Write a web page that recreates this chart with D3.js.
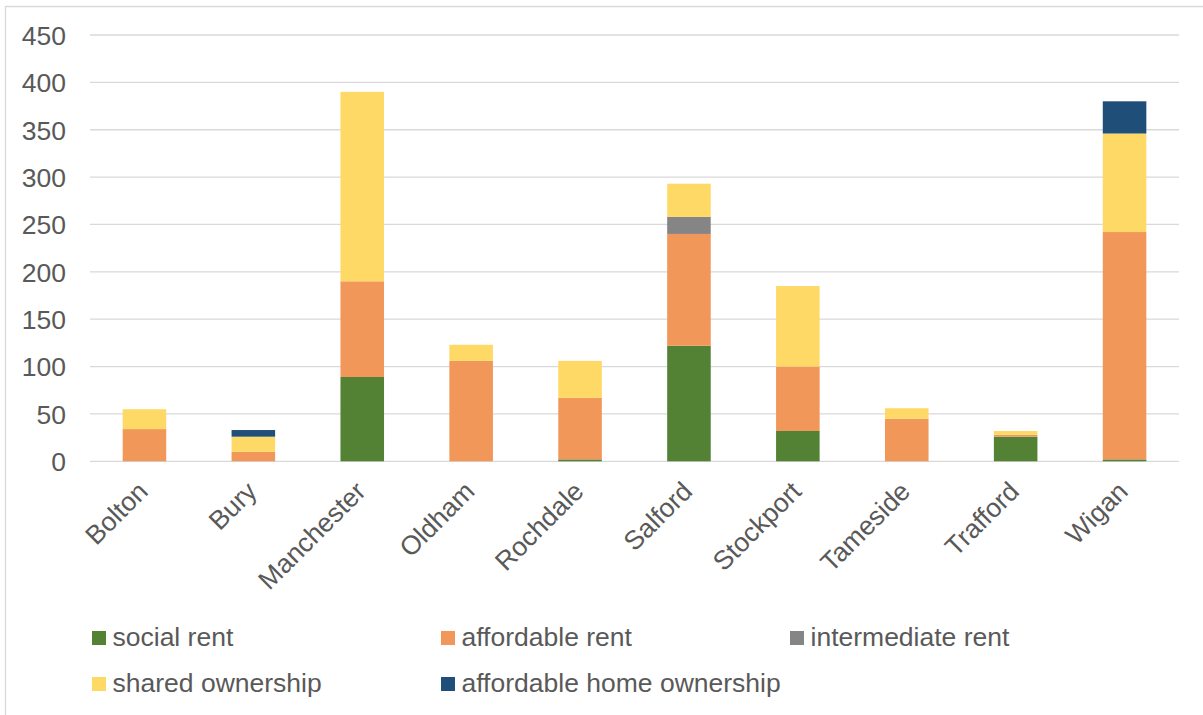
<!DOCTYPE html>
<html>
<head>
<meta charset="utf-8">
<script src="https://cdn.jsdelivr.net/npm/d3@7"></script>
<style>
  html, body { margin: 0; padding: 0; background: #fff; }
  svg { display: block; font-family: "Liberation Sans", Arial, sans-serif; }
</style>
</head>
<body>
<svg id="chart" width="1203" height="715"></svg>
<script>
const categories = ["Bolton", "Bury", "Manchester", "Oldham", "Rochdale", "Salford", "Stockport", "Tameside", "Trafford", "Wigan"];
const seriesNames = ["social rent", "affordable rent", "intermediate rent", "shared ownership", "affordable home ownership"];
const socialRent = [0, 0, 89, 0, 2, 122, 32, 0, 26, 2];
const affordableRent = [34, 10, 101, 106, 65, 118, 68, 45, 2, 240];
const intermediateRent = [0, 0, 0, 0, 0, 18, 0, 0, 0, 0];
const sharedOwnership = [21, 16, 200, 17, 39, 35, 85, 11, 4, 104];
const affordableHomeOwnership = [0, 7, 0, 0, 0, 0, 0, 0, 0, 34];
const yTicks = [0, 50, 100, 150, 200, 250, 300, 350, 400, 450];
const colors = ["#548235", "#F1975A", "#858585", "#FFD966", "#1F4E79"];

const seriesValues = [socialRent, affordableRent, intermediateRent, sharedOwnership, affordableHomeOwnership];
const table = categories.map((c, i) => {
  const row = { category: c };
  seriesNames.forEach((s, k) => row[s] = seriesValues[k][i]);
  return row;
});
const stacked = d3.stack().keys(seriesNames)(table);

const svg = d3.select("#chart");
const textColor = "#595959";
const fontSize = 26.5;

// chart border
svg.append("path")
  .attr("d", "M5.5,715 L5.5,6.5 L1203,6.5")
  .attr("fill", "none").attr("stroke", "#D9D9D9").attr("stroke-width", 1.3);

const x = d3.scaleBand().domain(categories).range([90, 1179]).paddingInner(0.6).paddingOuter(0.3);
const y = d3.scaleLinear().domain([0, 450]).range([461.3, 35]);

// grid
svg.append("g").selectAll("line").data(yTicks).join("line")
  .attr("x1", 90).attr("x2", 1179)
  .attr("y1", d => y(d)).attr("y2", d => y(d))
  .attr("stroke", "#D9D9D9").attr("stroke-width", 1.3);

// y axis labels
const yAxis = d3.axisLeft(y).tickValues(yTicks).tickSize(0).tickPadding(0).tickFormat(d3.format("d"));
const yg = svg.append("g").attr("transform", "translate(66,0)").call(yAxis);
yg.select(".domain").remove();
yg.selectAll("text").attr("fill", textColor).attr("font-size", fontSize)
  .attr("font-family", "Liberation Sans, Arial, sans-serif").attr("dy", "0.35em");

// bars
svg.append("g").selectAll("g").data(stacked).join("g")
  .attr("fill", (d, i) => colors[i])
  .selectAll("rect").data(d => d).join("rect")
  .attr("x", d => x(d.data.category))
  .attr("width", x.bandwidth())
  .attr("y", d => y(d[1]))
  .attr("height", d => y(d[0]) - y(d[1]));

// x axis labels
const bandCenter = c => x(c) + x.bandwidth() / 2;
svg.append("g").selectAll("text").data(categories).join("text")
  .attr("transform", d => `translate(${bandCenter(d) + 5},493) rotate(-45)`)
  .attr("text-anchor", "end")
  .attr("fill", textColor).attr("font-size", fontSize)
  .text(d => d);

// legend
const legendPos = [[92, 631], [441, 631], [790, 631], [92, 677], [441, 677]];
const lg = svg.append("g").selectAll("g").data(seriesNames).join("g")
  .attr("transform", (d, i) => `translate(${legendPos[i][0]},${legendPos[i][1]})`);
lg.append("rect").attr("width", 14).attr("height", 14).attr("fill", (d, i) => colors[i]);
lg.append("text").attr("x", 20.5).attr("y", 14.7)
  .attr("fill", textColor).attr("font-size", fontSize).text(d => d);
</script>
</body>
</html>
